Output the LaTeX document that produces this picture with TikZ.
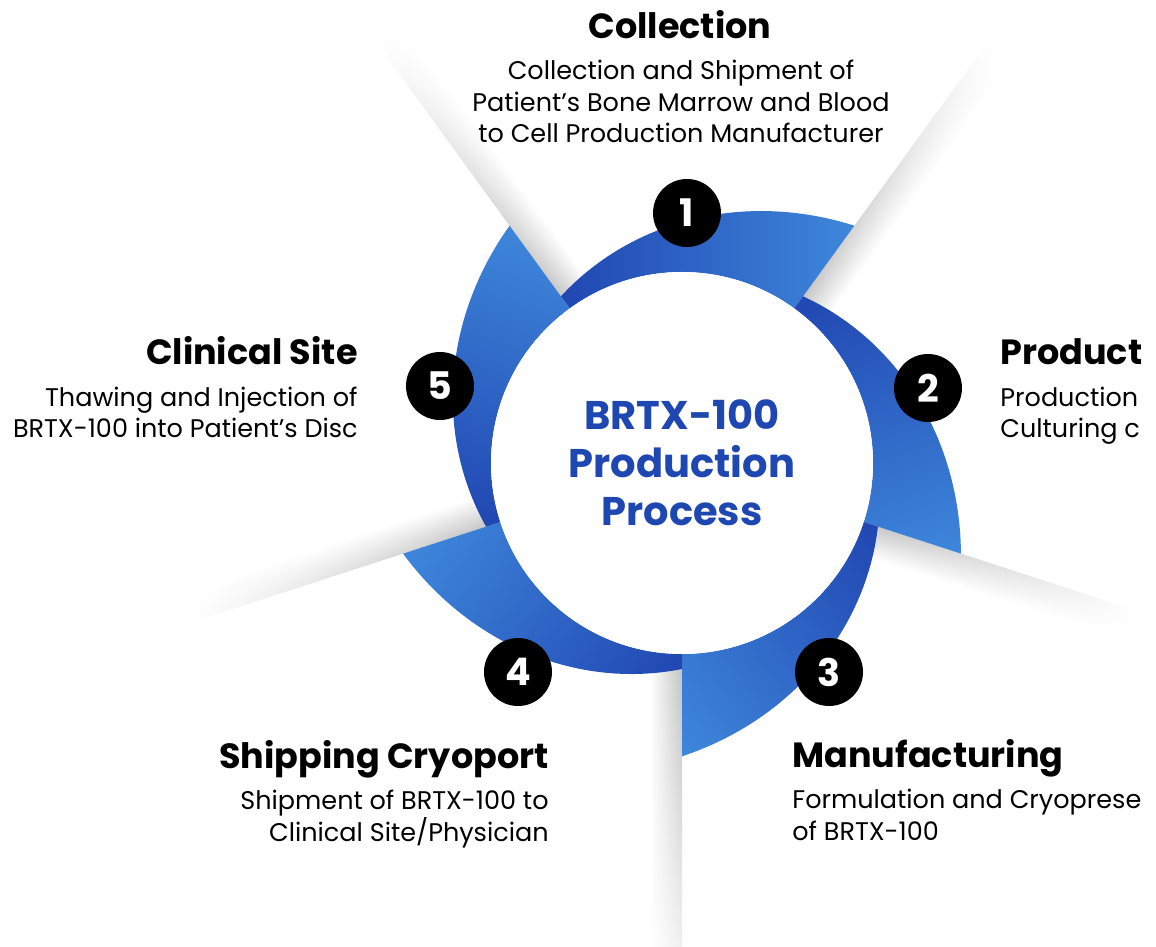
\documentclass[tikz,border=0pt]{standalone}
\usepackage{fontspec}
\setmainfont{Poppins}
\usetikzlibrary{fadings}

\definecolor{segdark}{RGB}{33,71,178}
\definecolor{seglight}{RGB}{62,135,219}
\definecolor{hubtext}{RGB}{31,71,178}

\tikzfading[name=stripfade, left color=transparent!0, middle color=transparent!0, right color=transparent!100]

\tikzset{ringpart/.style={left color=segdark,right color=seglight}}
\tikzset{shadowstrip/.style={top color=black!30,bottom color=white,path fading=stripfade}}
\tikzset{badge/.style={circle,fill=black,text=white,minimum size=34pt,inner sep=0pt,
    font=\fontsize{19}{19}\selectfont\bfseries}}
\tikzset{steptitle/.style={inner sep=0pt,font=\fontsize{17.5}{17.5}\selectfont\bfseries}}
\tikzset{stepdesc/.style={inner sep=0pt,font=\fontsize{12.75}{15.75}\selectfont}}

\begin{document}
\begin{tikzpicture}[x=0.5pt,y=0.5pt]
          \useasboundingbox (-682,-484) rectangle (474,463);
          \clip (-682,-484) rectangle (474,463);

          % Shadow strips between the steps
          \begin{scope}[transform canvas={rotate=126}]
              \shade[shadowstrip] (100,-32) rectangle (520,0);
          \end{scope}
          \begin{scope}[transform canvas={rotate=54}]
              \shade[shadowstrip] (100,-32) rectangle (520,0);
          \end{scope}
          \begin{scope}[transform canvas={rotate=-18}]
              \shade[shadowstrip] (100,-32) rectangle (478,0);
          \end{scope}
          \begin{scope}[transform canvas={rotate=-90}]
              \shade[shadowstrip] (100,-32) rectangle (580,0);
          \end{scope}
          \begin{scope}[transform canvas={rotate=-162}]
              \shade[shadowstrip] (100,-32) rectangle (516,0);
          \end{scope}

          % Ring parts, one per step
          \begin{scope}[transform canvas={rotate=0}]
              \shade[ringpart] plot[domain=0:72,samples=50] ({126-\x}:{206+0.725*\x+0.00678*\x*\x})
                  -- (54:191) arc[start angle=54,end angle=126,radius=191] -- cycle;
          \end{scope}
          \begin{scope}[transform canvas={rotate=-72}]
              \shade[ringpart] plot[domain=0:72,samples=50] ({126-\x}:{206+0.725*\x+0.00678*\x*\x})
                  -- (54:191) arc[start angle=54,end angle=126,radius=191] -- cycle;
          \end{scope}
          \begin{scope}[transform canvas={rotate=-144}]
              \shade[ringpart] plot[domain=0:72,samples=50] ({126-\x}:{206+0.725*\x+0.00678*\x*\x})
                  -- (54:191) arc[start angle=54,end angle=126,radius=191] -- cycle;
          \end{scope}
          \begin{scope}[transform canvas={rotate=-216}]
              \shade[ringpart] plot[domain=0:72,samples=50] ({126-\x}:{206+0.725*\x+0.00678*\x*\x})
                  -- (54:191) arc[start angle=54,end angle=126,radius=191] -- cycle;
          \end{scope}
          \begin{scope}[transform canvas={rotate=-288}]
              \shade[ringpart] plot[domain=0:72,samples=50] ({126-\x}:{206+0.725*\x+0.00678*\x*\x})
                  -- (54:191) arc[start angle=54,end angle=126,radius=191] -- cycle;
          \end{scope}

          % Hub
          \node [circle,fill=white,minimum size=191pt,inner sep=0pt,align=center,text=hubtext,
                 font=\fontsize{20}{24}\selectfont\bfseries] (hub) at (0,0)
                 {BRTX-100\\Production\\Process};

          % Numbers
          \node [badge] (b1) at (5,250) {1};
          \node [badge] (b2) at (246,75) {2};
          \node [badge] (b3) at (147,-209) {3};
          \node [badge] (b4) at (-164,-209) {4};
          \node [badge] (b5) at (-242,77) {5};

          % Step texts (multi-line nodes sit on their last baseline)
          \node [steptitle,anchor=base] (t1) at (-2,424) {Collection};
          \node [stepdesc,anchor=base,align=center] (d1) at (-1,320)
                {Collection and Shipment of\\Patient’s Bone Marrow and Blood\\to Cell Production Manufacturer};
          \node [steptitle,anchor=base west] (t2) at (318,98) {Product};
          \node [stepdesc,anchor=base west,align=left] (d2) at (318,25) {Production\\Culturing c};
          \node [steptitle,anchor=base west] (t3) at (110,-304) {Manufacturing};
          \node [stepdesc,anchor=base west,align=left] (d3) at (110,-377) {Formulation and Cryoprese\\of BRTX-100};
          \node [steptitle,anchor=base east] (t4) at (-133,-305) {Shipping Cryoport};
          \node [stepdesc,anchor=base east,align=right] (d4) at (-133,-378) {Shipment of BRTX-100 to\\Clinical Site/Physician};
          \node [steptitle,anchor=base east] (t5) at (-324,98) {Clinical Site};
          \node [stepdesc,anchor=base east,align=right] (d5) at (-324,25) {Thawing and Injection of\\BRTX-100 into Patient’s Disc};
\end{tikzpicture}
\end{document}
